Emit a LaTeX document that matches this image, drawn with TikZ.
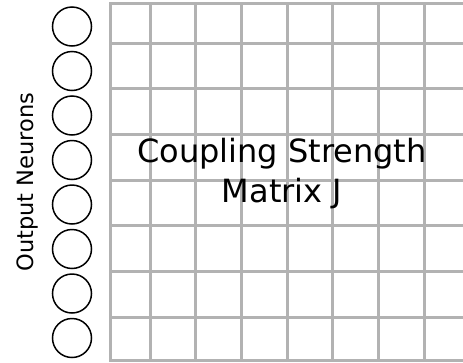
\documentclass[tikz,border=0pt]{standalone}
\usepackage{fontspec}
\setmainfont{DejaVu Sans}
\usepackage{tikz}

\tikzset{
  gridline/.style={draw=black!30, line width=3pt},
  neuron/.style={circle, draw, line width=1.5pt, minimum size=39pt, inner sep=0pt}
}

\begin{document}
\begin{tikzpicture}[x=1pt,y=-1pt]
\useasboundingbox (0,0) rectangle (463,362);
% coupling matrix grid
\foreach \i in {0,...,6}{
  \draw[gridline] ({150+45.7*\i},3) -- ({150+45.7*\i},360);
  \draw[gridline] (110,{43+45.7*\i}) -- (463,{43+45.7*\i});
}
\draw[gridline] (463,3) -- (110,3) -- (110,360) -- (463,360);
\node[align=center, inner sep=0pt, font=\fontsize{32}{40}\selectfont] (matJ) at (282,174) {Coupling Strength\\Matrix J};
% output neurons
\foreach \i in {1,...,8}
  \node[neuron] (n\i) at (72,{26.5+44.5*(\i-1)}) {};
\node[rotate=90, anchor=base, inner sep=0pt, font=\fontsize{22.5}{27}\selectfont] (outlbl) at (33,182) {Output Neurons};
\end{tikzpicture}
\end{document}
